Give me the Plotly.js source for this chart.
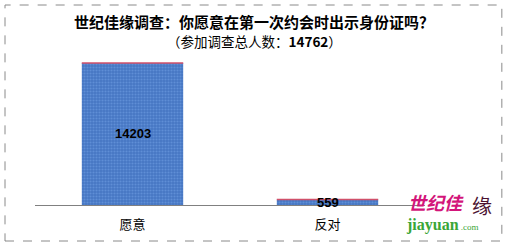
<!DOCTYPE html>
<html><head><meta charset="utf-8">
<script src="https://cdn.plot.ly/plotly-3.0.1.min.js"></script>
<style>html,body{margin:0;padding:0;background:#fff}#c{width:508px;height:248px}</style>
</head><body><div id="c"></div>
<script>
const categories = ['愿意', '反对'];
const values = [14203, 559];
const total = 14762;
const titleText = '世纪佳缘调查：你愿意在第一次约会时出示身份证吗？';

const cjk = '"Noto Sans CJK SC", "Liberation Sans", sans-serif';
const barWidth = 0.52;

const trace = {
  type: 'bar', x: categories, y: values, width: barWidth,
  marker: {color: '#4a7cc8', line: {width: 0},
           pattern: {shape: '.', fgcolor: '#5f8ed6', bgcolor: '#4677c4', size: 3, solidity: 0.4}},
  hoverinfo: 'skip'
};

const shapes = values.map((v, i) => ({
  type: 'line', xref: 'x', yref: 'y', x0: i - barWidth/2, x1: i + barWidth/2, y0: v, y1: v,
  line: {color: '#d0506a', width: 1.5}
}));
shapes.push({type: 'rect', xref: 'paper', yref: 'paper', x0: -0.0769, x1: 1.197, y0: -0.225, y1: 1.25,
  line: {color: '#8a8a8a', width: 1, dash: 'dash'}, fillcolor: 'rgba(0,0,0,0)', layer: 'below'});

const annotations = values.map((v, i) => ({
  x: categories[i], y: v / 2, xref: 'x', yref: 'y', text: '<b>' + v + '</b>', showarrow: false,
  font: {family: '"Liberation Sans Narrow", "Liberation Sans", Arial, sans-serif', size: 13, color: '#000'}
}));
annotations.push({xref: 'paper', yref: 'paper', x: 0.562, y: 1.15, yanchor: 'middle', text: '<b>' + titleText + '</b>',
  showarrow: false, font: {family: cjk, size: 15, color: '#000'}});
annotations.push({xref: 'paper', yref: 'paper', x: 0.562, y: 1.025, yanchor: 'middle',
  text: '（参加调查总人数：<b>' + total + '</b>）', showarrow: false,
  font: {family: cjk, size: 13.5, color: '#000'}});
// logo
annotations.push({xref: 'paper', yref: 'paper', x: 0.952, y: 0.02, xanchor: 'left', yanchor: 'middle',
  text: '<b><i>世纪佳</i></b>', showarrow: false, font: {family: cjk, size: 18, color: '#d3157a'}});
annotations.push({xref: 'paper', yref: 'paper', x: 1.115, y: 0.0, xanchor: 'left', yanchor: 'middle',
  text: '缘', showarrow: false, font: {family: cjk, size: 20, color: '#4a1030'}});
annotations.push({xref: 'paper', yref: 'paper', x: 0.945, y: -0.125, xanchor: 'left', yanchor: 'middle',
  text: '<b>jiayuan</b><span style="font-size:9px"> .com</span>', showarrow: false,
  font: {family: '"Liberation Serif", "DejaVu Serif", serif', size: 16, color: '#3aa637'}});

const layout = {
  width: 508, height: 248,
  margin: {l: 35, r: 83, t: 45, b: 43, pad: 0},
  paper_bgcolor: '#fff', plot_bgcolor: '#fff',
  showlegend: false,
  xaxis: {type: 'category', range: [-0.5, 1.5], showline: true, linecolor: '#808080', linewidth: 1,
          ticks: '', showgrid: false, zeroline: false, fixedrange: true, ticklabelstandoff: 7,
          tickfont: {family: cjk, size: 13, color: '#000'}},
  yaxis: {range: [0, 16000], visible: false, showgrid: false, zeroline: false, fixedrange: true},
  shapes: shapes, annotations: annotations
};
Plotly.newPlot('c', [trace], layout, {displayModeBar: false, staticPlot: true});
</script></body></html>
